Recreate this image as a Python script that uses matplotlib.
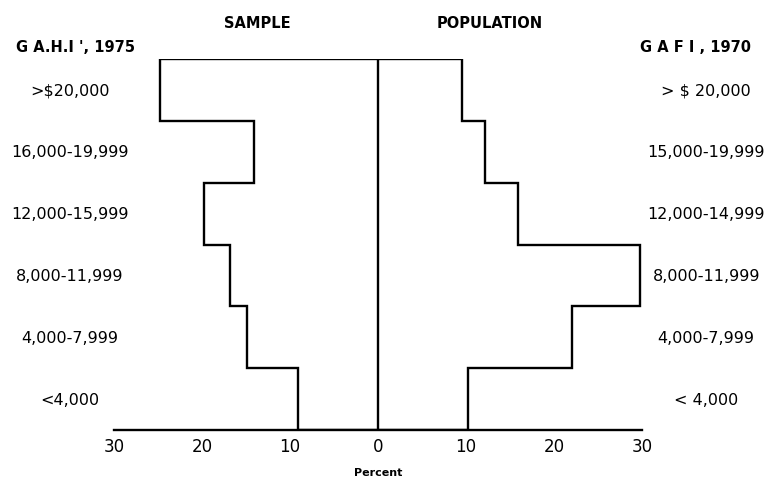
import matplotlib
matplotlib.use("Agg")
import matplotlib.pyplot as plt
import numpy as np

# Data (bottom to top)
sample_labels = ["<4,000", "4,000-7,999", "8,000-11,999", "12,000-15,999", "16,000-19,999", ">$20,000"]
population_labels = ["< 4,000", "4,000-7,999", "8,000-11,999", "12,000-14,999", "15,000-19,999", "> $ 20,000"]
sample_pct = [9.1, 14.9, 16.8, 19.8, 14.1, 24.8]
population_pct = [10.2, 22.0, 29.8, 15.9, 12.2, 9.5]
tick_values = [-30, -20, -10, 0, 10, 20, 30]
tick_labels = ["30", "20", "10", "0", "10", "20", "30"]

W, H = 772, 481
fig = plt.figure(figsize=(W / 100, H / 100), dpi=100)
fig.patch.set_facecolor("white")
ax = fig.add_axes([114 / W, (H - 431) / H, 528 / W, 371 / H])

edges = np.arange(len(sample_pct) + 1)
lw = 1.7
ax.stairs(-np.array(sample_pct), edges, orientation="horizontal", baseline=0,
          color="black", linewidth=lw)
ax.stairs(np.array(population_pct), edges, orientation="horizontal", baseline=0,
          color="black", linewidth=lw)
ax.plot([0, 0], [0, len(sample_pct)], color="black", linewidth=lw)

ax.set_xlim(-30, 30)
ax.set_ylim(0, len(sample_pct))
for s in ["top", "left", "right"]:
    ax.spines[s].set_visible(False)
ax.spines["bottom"].set_linewidth(lw)
ax.set_yticks([])
ax.set_xticks(tick_values)
ax.set_xticklabels(tick_labels, fontsize=12)
ax.tick_params(axis="x", length=0, pad=5)
ax.set_xlabel("Percent", fontsize=8, fontweight="bold", labelpad=9)

for i, lab in enumerate(sample_labels):
    ax.text(-35.0, i + 0.5, lab, ha="center", va="center", fontsize=11.5, clip_on=False)
for i, lab in enumerate(population_labels):
    ax.text(37.3, i + 0.5, lab, ha="center", va="center", fontsize=11.5, clip_on=False)

fig.text(257 / W, 1 - 23 / H, "SAMPLE", ha="center", va="center", fontsize=10.5, fontweight="bold")
fig.text(490 / W, 1 - 23 / H, "POPULATION", ha="center", va="center", fontsize=10.5, fontweight="bold")
fig.text(76 / W, 1 - 47 / H, "G A.H.I ', 1975", ha="center", va="center", fontsize=10.5, fontweight="semibold")
fig.text(695 / W, 1 - 47 / H, "G A F I , 1970", ha="center", va="center", fontsize=10.5, fontweight="semibold")

fig.savefig("out.png", dpi=100, facecolor="white")
